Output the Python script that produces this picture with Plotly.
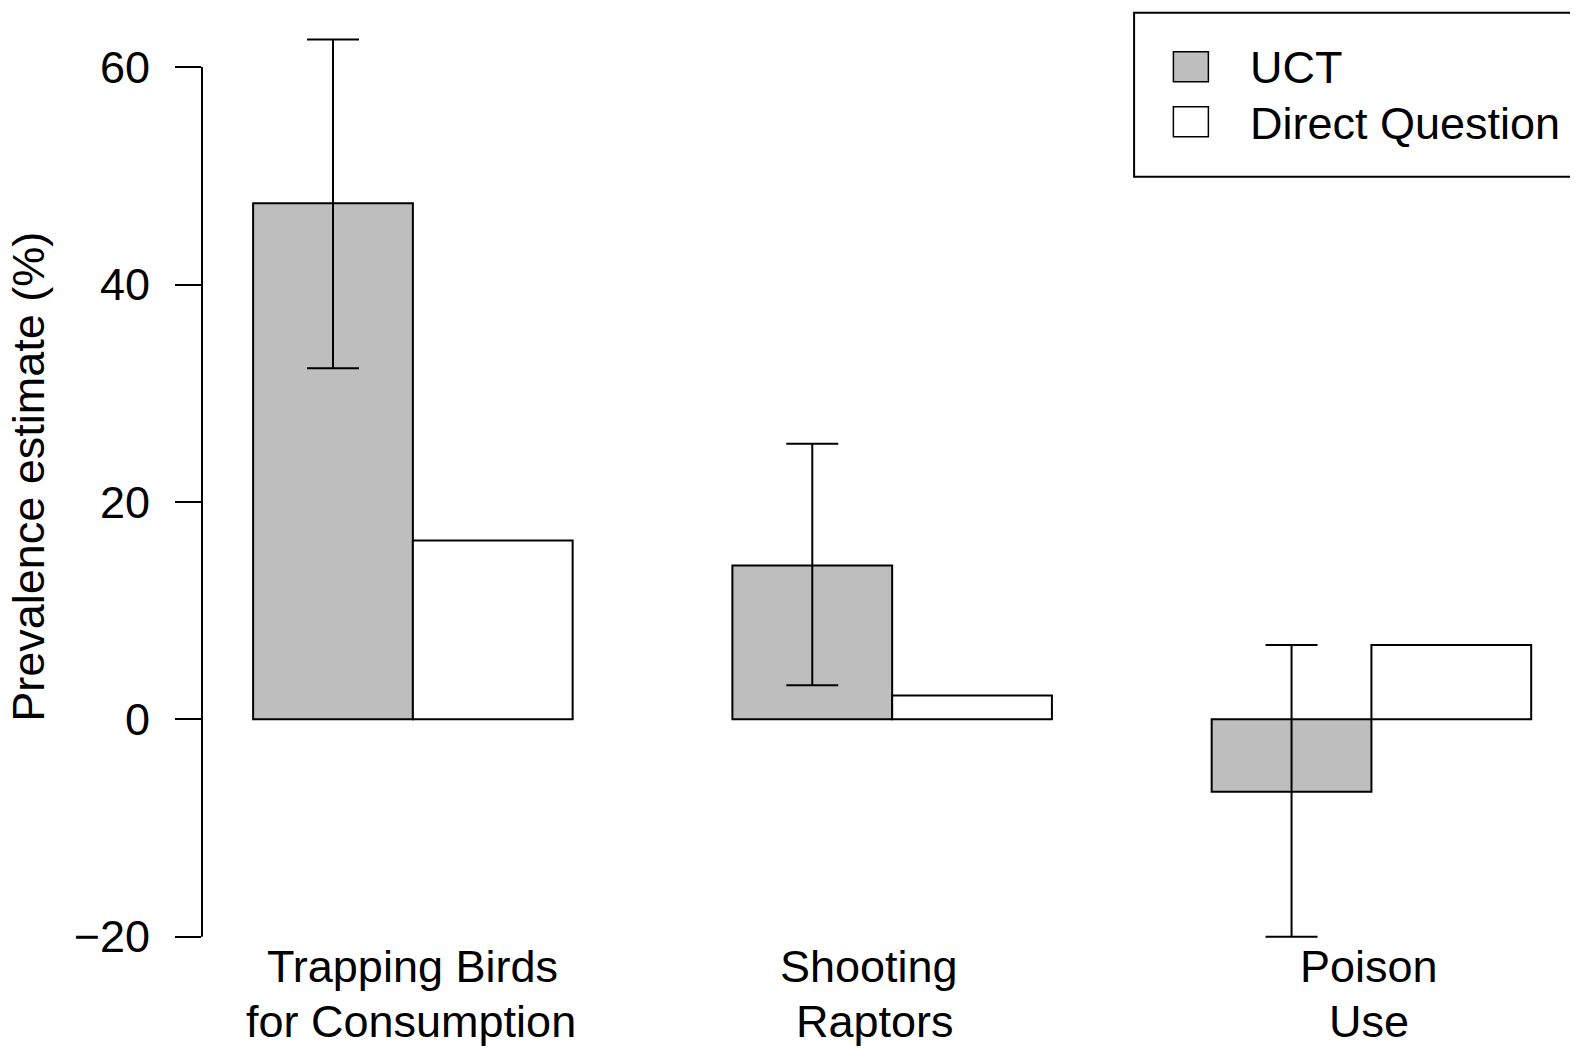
import plotly.graph_objects as go

# ---- data ----
categories = ["Trapping Birds\nfor Consumption", "Shooting\nRaptors", "Poison\nUse"]
series_names = ["UCT", "Direct Question"]
uct_values = [47.47, 14.14, -6.67]
uct_lower = [32.29, 3.13, -20.0]
uct_upper = [62.55, 25.35, 6.84]
dq_values = [16.46, 2.2, 6.84]
y_ticks = [-20, 0, 20, 40, 60]
y_title = "Prevalence estimate (%)"

# ---- layout geometry (page pixels; page has an 8px body margin) ----
OFF = 8
W, H = 1578 - OFF, 1048 - OFF
PL, PR, PT, PB = 201.7, 1578, 8, 955  # plot area in page pixels
FONT = "Liberation Sans, Arial, Helvetica, sans-serif"
FS = 45

def px_x(p):
    return (p - PL) / (PR - PL)

def px_y(p):
    return (PB - p) / (PB - PT)

centers = [2 + 3 * i for i in range(len(categories))]
x_uct = [c - 0.5 for c in centers]
x_dq = [c + 0.5 for c in centers]

fig = go.Figure()
fig.add_trace(go.Bar(
    x=x_uct, y=uct_values, width=1, name=series_names[0],
    marker=dict(color="#BEBEBE", line=dict(color="black", width=2)),
    error_y=dict(type="data", symmetric=False,
                 array=[u - v for u, v in zip(uct_upper, uct_values)],
                 arrayminus=[v - l for v, l in zip(uct_values, uct_lower)],
                 color="black", thickness=2, width=26),
    showlegend=False,
))
fig.add_trace(go.Bar(
    x=x_dq, y=dq_values, width=1, name=series_names[1],
    marker=dict(color="white", line=dict(color="black", width=2)),
    showlegend=False,
))

annotations = []
shapes = []

# category labels (two lines each); small per-line horizontal nudges as in the original
line_y = [966, 1021]
label_shift = [[0, -2], [-23.5, -17], [-2.5, -2]]
for c, lab, sh in zip(centers, categories, label_shift):
    for k, line in enumerate(lab.split("\n")):
        annotations.append(dict(
            x=c, xref="x", y=px_y(line_y[k]), yref="paper", xshift=sh[k],
            text=line, showarrow=False, xanchor="center", yanchor="middle",
            font=dict(family=FONT, size=FS, color="black"),
        ))

# y title
annotations.append(dict(
    x=px_x(27.5), xref="paper", y=px_y(477), yref="paper",
    text=y_title, textangle=-90, showarrow=False,
    xanchor="center", yanchor="middle",
    font=dict(family=FONT, size=FS, color="black"),
))

# y axis line spanning only the tick range (R style)
shapes.append(dict(type="line", xref="paper", yref="y",
                   x0=0, x1=0, y0=min(y_ticks), y1=max(y_ticks),
                   line=dict(color="black", width=2)))

# legend box
shapes.append(dict(type="rect", xref="paper", yref="paper",
                   x0=px_x(1134), x1=px_x(1600), y0=px_y(176.7), y1=px_y(12.7),
                   line=dict(color="black", width=2), fillcolor="rgba(0,0,0,0)"))
leg_fill = ["#BEBEBE", "white"]
leg_sq_y = [(51.7, 81.7), (106.7, 136.7)]
leg_txt_y = [68, 123]
for name, fillc, (t, b), ty in zip(series_names, leg_fill, leg_sq_y, leg_txt_y):
    shapes.append(dict(type="rect", xref="paper", yref="paper",
                       x0=px_x(1173.3), x1=px_x(1208.3), y0=px_y(b), y1=px_y(t),
                       line=dict(color="black", width=1.5), fillcolor=fillc))
    annotations.append(dict(
        x=px_x(1248), xref="paper", y=px_y(ty), yref="paper",
        text=name, showarrow=False, xanchor="left", yanchor="middle",
        font=dict(family=FONT, size=FS, color="black"),
    ))

y0_px, y_per = 719.3, 10.87
fig.update_layout(
    width=W, height=H,
    margin=dict(l=PL - OFF, r=1578 - PR, t=PT - OFF, b=1048 - PB, pad=0),
    paper_bgcolor="white", plot_bgcolor="white",
    barmode="overlay",
    font=dict(family=FONT, size=FS, color="black"),
    xaxis=dict(range=[0.68, 9.293], showticklabels=False, showgrid=False,
               zeroline=False, showline=False, ticks=""),
    yaxis=dict(range=[-(PB - y0_px) / y_per, (y0_px - PT) / y_per], tickvals=y_ticks,
               ticktext=[("\u2212" + str(-v)) if v < 0 else str(v) for v in y_ticks],
               ticks="outside", ticklen=26, tickwidth=2, tickcolor="black",
               showgrid=False, zeroline=False, showline=False,
               ticklabelstandoff=16,
               tickfont=dict(family=FONT, size=FS, color="black")),
    annotations=annotations,
    shapes=shapes,
)

fig.write_html("out.html")
